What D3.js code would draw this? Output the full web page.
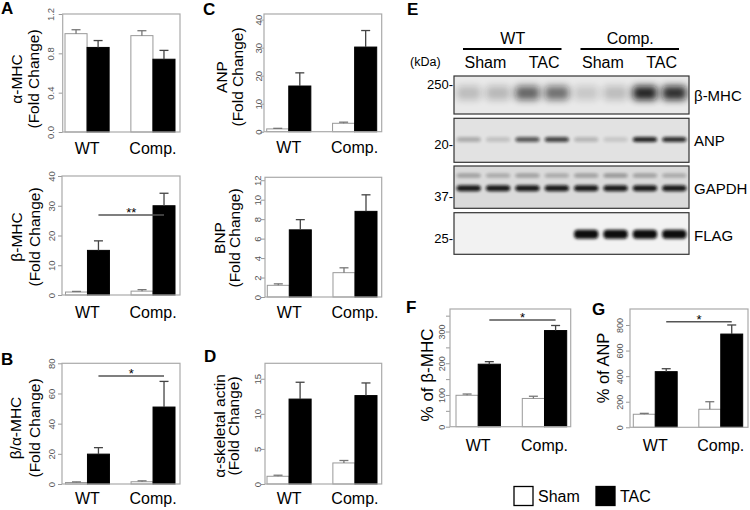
<!DOCTYPE html>
<meta charset="utf-8">
<html>
<head>
<script src="https://cdn.jsdelivr.net/npm/d3@7"></script>
<style>
body { margin:0; background:#fff; }
text { font-family:"Liberation Sans", Arial, sans-serif; }
</style>
</head>
<body>
<div id="fig"></div>
<script>

// groups and conditions
var groups = ["WT", "Comp."];
var conditions = ["Sham", "TAC"];
var condFill = {Sham: "#fff", TAC: "#000"};

// bar values, order: WT Sham, WT TAC, Comp Sham, Comp TAC
var aMhcMean = [1.00, 0.86, 0.98, 0.74];
var aMhcSem  = [0.04, 0.07, 0.05, 0.09];

var bMhcMean = [1.0, 15.0, 1.3, 30.0];
var bMhcSem  = [0.2, 3.2, 0.5, 4.2];

var ratioMean = [1.0, 19.8, 1.5, 51.0];
var ratioSem  = [0.4, 4.3, 0.6, 17.0];

var anpMean = [1.0, 16.3, 3.0, 30.2];
var anpSem  = [0.2, 4.7, 0.4, 5.9];

var bnpMean = [1.2, 6.9, 2.5, 8.8];
var bnpSem  = [0.15, 1.05, 0.5, 1.7];

var actinMean = [1.1, 12.1, 3.0, 12.6];
var actinSem  = [0.15, 2.4, 0.35, 1.8];

var pctMhcMean = [99, 197, 89, 303];
var pctMhcSem  = [4, 8, 7, 16];

var pctAnpMean = [102, 435, 141, 729];
var pctAnpSem  = [7, 23, 59, 71];

// western blot: 8 lanes, band intensity 0..1
var laneHeaders = ["Sham", "TAC", "Sham", "TAC"];
var blotProteins = ["β-MHC", "ANP", "GAPDH", "FLAG"];
var blotMarkers = ["250-", "20-", "37-", "25-"];
var bandMhc   = [0.2, 0.22, 0.6, 0.55, 0.15, 0.2, 0.9, 0.85];
var bandAnp   = [0.25, 0.15, 0.65, 0.75, 0.2, 0.12, 0.9, 0.85];
var bandGapdh = [0.95, 0.95, 0.95, 0.95, 0.95, 0.95, 0.95, 0.95];
var bandGapdhUpper = [0.3, 0.25, 0.3, 0.25, 0.3, 0.35, 0.3, 0.25];
var bandFlag  = [0, 0, 0, 0, 1, 1, 1, 1];

var svg = d3.select("#fig").append("svg")
    .attr("width", 750).attr("height", 510);

var defs = svg.append("defs");
[1, 1.5, 2.5, 3.5].forEach(function(s) {
  defs.append("filter").attr("id", "blur" + String(s).replace(".", "_"))
    .attr("x", "-50%").attr("y", "-100%").attr("width", "200%").attr("height", "300%")
    .append("feGaussianBlur").attr("stdDeviation", s);
});

function barPanel(c) {
  var g = svg.append("g");
  var y = d3.scaleLinear().domain([0, c.ymax]).range([c.B, c.T]);
  var gx = d3.scaleBand().domain(groups).range(c.bars).paddingInner(0.33);
  var cx = d3.scaleBand().domain(conditions).range([0, gx.bandwidth()]);

  var data = [];
  groups.forEach(function(gr, gi) {
    conditions.forEach(function(cd, ci) {
      var k = gi * 2 + ci;
      data.push({group: gr, cond: cd, v: c.mean[k], e: c.sem[k]});
    });
  });

  // axis ticks
  var ax = g.append("g").attr("transform", "translate(" + c.L + ",0)")
    .call(d3.axisLeft(y).tickValues(c.ticks).tickSize(4).tickPadding(0)
      .tickFormat(function(d) { return c.labels.indexOf(d) >= 0 ? c.fmt(d) : ""; }));
  ax.select(".domain").remove();
  ax.selectAll("line").attr("stroke", "#999");
  ax.selectAll("text")
    .attr("x", null).attr("dy", "0.35em")
    .attr("transform", "translate(" + (c.tickX - c.L) + ",0) rotate(-90)")
    .attr("text-anchor", "middle")
    .attr("fill", "#555")
    .style("font-size", c.tickSize + "px");

  // bars
  g.selectAll("rect.bar").data(data).enter().append("rect")
    .attr("class", "bar")
    .attr("x", function(d) { return gx(d.group) + cx(d.cond); })
    .attr("y", function(d) { return y(d.v); })
    .attr("width", cx.bandwidth())
    .attr("height", function(d) { return c.B - y(d.v); })
    .attr("fill", function(d) { return condFill[d.cond]; })
    .attr("stroke", function(d) { return d.cond === "TAC" ? "#000" : "#999"; })
    .attr("stroke-width", 1);

  // error bars (upper only)
  var eb = g.selectAll("g.err").data(data).enter().append("g")
    .attr("stroke", function(d) { return d.cond === "TAC" ? "#444" : "#777"; })
    .attr("stroke-width", 1.3);
  eb.append("line")
    .attr("x1", function(d) { return gx(d.group) + cx(d.cond) + cx.bandwidth() / 2; })
    .attr("x2", function(d) { return gx(d.group) + cx(d.cond) + cx.bandwidth() / 2; })
    .attr("y1", function(d) { return y(d.v); })
    .attr("y2", function(d) { return y(d.v + d.e); });
  eb.append("line")
    .attr("x1", function(d) { return gx(d.group) + cx(d.cond) + cx.bandwidth() / 2 - 4.5; })
    .attr("x2", function(d) { return gx(d.group) + cx(d.cond) + cx.bandwidth() / 2 + 4.5; })
    .attr("y1", function(d) { return y(d.v + d.e); })
    .attr("y2", function(d) { return y(d.v + d.e); });

  // box
  g.append("rect").attr("x", c.L).attr("y", c.T)
    .attr("width", c.R - c.L).attr("height", c.B - c.T)
    .attr("fill", "none").attr("stroke", "#aaa").attr("stroke-width", 1.2);

  // group labels
  g.selectAll("text.grp").data(groups).enter().append("text")
    .attr("x", function(d) { return gx(d) + gx.bandwidth() / 2; })
    .attr("y", c.B + c.labelDy)
    .attr("text-anchor", "middle")
    .style("font-size", "16px")
    .text(function(d) { return d; });

  // y title
  c.title.forEach(function(t, i) {
    g.append("text")
      .attr("transform", "translate(" + c.titleX[i] + "," + c.titleY + ") rotate(-90)")
      .attr("text-anchor", "middle").attr("dy", "0.36em")
      .style("font-size", c.titleSize + "px")
      .text(t);
  });

  // significance
  if (c.sig) {
    var x1 = gx("WT") + cx("TAC") + cx.bandwidth() / 2;
    var x2 = gx("Comp.") + cx("TAC") + cx.bandwidth() / 2;
    g.append("line").attr("x1", x1).attr("x2", x2)
      .attr("y1", c.sig.y).attr("y2", c.sig.y)
      .attr("stroke", "#555").attr("stroke-width", 1.4);
    g.append("text").attr("x", (x1 + x2) / 2).attr("y", c.sig.y + 2)
      .attr("text-anchor", "middle").style("font-size", "13px")
      .text(c.sig.mark);
  }
}

var f1 = d3.format(".1f"), f0 = d3.format("d");

barPanel({L: 62.7, R: 180, T: 14, B: 132, bars: [65, 175], ymax: 1.2,
  ticks: [0, 0.4, 0.8, 1.2], labels: [0, 0.4, 0.8, 1.2], fmt: f1, tickX: 51, tickSize: 9.5,
  mean: aMhcMean, sem: aMhcSem, labelDy: 21.5,
  title: ["α-MHC", "(Fold Change)"], titleX: [16, 33], titleY: 79, titleSize: 15.5});

barPanel({L: 62, R: 180, T: 176, B: 295, bars: [65.5, 175], ymax: 40,
  ticks: [0, 10, 20, 30, 40], labels: [0, 10, 20, 30, 40], fmt: f0, tickX: 52, tickSize: 9.5,
  mean: bMhcMean, sem: bMhcSem, labelDy: 23,
  title: ["β-MHC", "(Fold Change)"], titleX: [16, 34], titleY: 237, titleSize: 15.5,
  sig: {y: 215, mark: "**"}});

barPanel({L: 62, R: 180, T: 363.3, B: 484, bars: [65.5, 175], ymax: 80,
  ticks: [0, 20, 40, 60, 80], labels: [0, 20, 40, 60, 80], fmt: f0, tickX: 52, tickSize: 9.5,
  mean: ratioMean, sem: ratioSem, labelDy: 20,
  title: ["β/α-MHC", "(Fold Change)"], titleX: [15, 34], titleY: 428, titleSize: 15.5,
  sig: {y: 376, mark: "*"}});

barPanel({L: 264, R: 381.7, T: 14, B: 131.7, bars: [266.7, 376.7], ymax: 42,
  ticks: [0, 10, 20, 30, 40], labels: [0, 10, 20, 30, 40], fmt: f0, tickX: 258.5, tickSize: 9.5,
  mean: anpMean, sem: anpSem, labelDy: 21.6,
  title: ["ANP", "(Fold Change)"], titleX: [221, 237.5], titleY: 77, titleSize: 15.5});

barPanel({L: 265, R: 381.7, T: 177.3, B: 297, bars: [267.3, 377], ymax: 12.3,
  ticks: [0, 2, 4, 6, 8, 10, 12], labels: [0, 2, 4, 6, 8, 10, 12], fmt: f0, tickX: 257.5, tickSize: 9.5,
  mean: bnpMean, sem: bnpSem, labelDy: 21.3,
  title: ["BNP", "(Fold Change)"], titleX: [219, 234.5], titleY: 238, titleSize: 15.5});

barPanel({L: 265, R: 381.7, T: 363.3, B: 484, bars: [267, 377], ymax: 17.2,
  ticks: [0, 5, 10, 15], labels: [0, 5, 10, 15], fmt: f0, tickX: 258, tickSize: 9.5,
  mean: actinMean, sem: actinSem, labelDy: 19.5,
  title: ["α-skeletal actin", "(Fold Change)"], titleX: [219, 233], titleY: 426, titleSize: 15.5});

barPanel({L: 450, R: 570.7, T: 309, B: 426.7, bars: [456, 566.7], ymax: 371,
  ticks: [0, 50, 100, 150, 200, 250, 300, 350], labels: [0, 100, 200, 300], fmt: f0, tickX: 442, tickSize: 9,
  mean: pctMhcMean, sem: pctMhcSem, labelDy: 24,
  title: ["% of  β-MHC"], titleX: [427], titleY: 375, titleSize: 17,
  sig: {y: 320, mark: "*"}});

barPanel({L: 630, R: 748, T: 309, B: 427.3, bars: [633.3, 742.7], ymax: 925,
  ticks: [0, 200, 400, 600, 800], labels: [0, 200, 400, 600, 800], fmt: f0, tickX: 619.5, tickSize: 9,
  mean: pctAnpMean, sem: pctAnpSem, labelDy: 23.4,
  title: ["% of ANP"], titleX: [603], titleY: 368, titleSize: 16.5,
  sig: {y: 321.7, mark: "*"}});

// panel letters
var letters = [["A", 1, 14], ["B", 1, 365], ["C", 203, 15], ["D", 204, 362],
               ["E", 407, 15], ["F", 406, 313], ["G", 592, 315]];
svg.selectAll("text.letter").data(letters).enter().append("text")
  .attr("x", function(d) { return d[1]; }).attr("y", function(d) { return d[2]; })
  .style("font-size", "17px").style("font-weight", "bold")
  .text(function(d) { return d[0]; });

// ---- western blot (E) ----
var lane = d3.scaleBand().domain(d3.range(8)).range([454, 689]);
var blotRows = [
  {top: 76, bottom: 114, bg: "#e9e9e9", bands: [{v: bandMhc, cy: 93, h: 14, blur: "3_5"}]},
  {top: 118.3, bottom: 162.3, bg: "#e2e2e2", bands: [{v: bandAnp, cy: 139.5, h: 5, blur: "1_5"}]},
  {top: 166, bottom: 208.3, bg: "#dadada", bands: [{v: bandGapdhUpper, cy: 175.5, h: 4, blur: "1_5"},
                                                   {v: bandGapdh, cy: 188.3, h: 6, blur: "1_5"}]},
  {top: 212.7, bottom: 254.3, bg: "#f2f2f2", bands: [{v: bandFlag, cy: 234.3, h: 9, blur: "1_5"}]}
];

var blot = svg.append("g");
blotRows.forEach(function(r, ri) {
  blot.append("rect").attr("x", 454).attr("y", r.top)
    .attr("width", 689 - 454).attr("height", r.bottom - r.top)
    .attr("fill", r.bg);
  var clip = defs.append("clipPath").attr("id", "clip" + ri);
  clip.append("rect").attr("x", 454).attr("y", r.top)
    .attr("width", 689 - 454).attr("height", r.bottom - r.top);
  var bg = blot.append("g").attr("clip-path", "url(#clip" + ri + ")");
  r.bands.forEach(function(b) {
    bg.selectAll(null).data(b.v).enter().append("rect")
      .attr("x", function(d, i) { return lane(i) + 2.5; })
      .attr("width", lane.bandwidth() - 5)
      .attr("y", b.cy - b.h / 2).attr("height", b.h)
      .attr("rx", 4)
      .attr("fill", "#0a0a0a")
      .attr("opacity", function(d) { return d; })
      .attr("filter", "url(#blur" + b.blur + ")");
  });
  blot.append("rect").attr("x", 454).attr("y", r.top)
    .attr("width", 689 - 454).attr("height", r.bottom - r.top)
    .attr("fill", "none").attr("stroke", "#333").attr("stroke-width", 1.2);

  blot.append("text").attr("x", 694).attr("y", [96, 141, 189, 235.5][ri]).attr("dy", "0.36em")
    .style("font-size", "15px").text(blotProteins[ri]);
  blot.append("text").attr("x", 453).attr("y", [84, 144, 196.7, 238.3][ri]).attr("dy", "0.36em")
    .attr("text-anchor", "end").style("font-size", "13px").text(blotMarkers[ri]);
});

blot.append("text").attr("x", 410).attr("y", 61).attr("dy", "0.36em")
  .style("font-size", "12.5px").text("(kDa)");

// lane headers
laneHeaders.forEach(function(h, i) {
  var cxm = (lane(2 * i) + lane(2 * i + 1) + lane.bandwidth()) / 2 + 2;
  blot.append("text").attr("x", cxm).attr("y", 62.5).attr("dy", "0.36em")
    .attr("text-anchor", "middle").style("font-size", "16px").text(h);
});
groups.forEach(function(gname, gi) {
  var x0 = lane(4 * gi), x1 = lane(4 * gi + 3) + lane.bandwidth();
  blot.append("line").attr("x1", x0 + 9).attr("x2", x1 - 10)
    .attr("y1", 49).attr("y2", 49).attr("stroke", "#000").attr("stroke-width", 2);
  blot.append("text").attr("x", (x0 + x1) / 2).attr("y", 38).attr("dy", "0.36em")
    .attr("text-anchor", "middle").style("font-size", "16px").text(gname);
});

// legend
var legX = [514, 596];
conditions.forEach(function(cd, i) {
  svg.append("rect").attr("x", legX[i]).attr("y", 486.5)
    .attr("width", 19).attr("height", 19)
    .attr("fill", condFill[cd]).attr("stroke", "#000").attr("stroke-width", 1.3);
  svg.append("text").attr("x", legX[i] + 24).attr("y", 496).attr("dy", "0.36em")
    .style("font-size", "16px").text(cd);
});

</script>
</body>
</html>
